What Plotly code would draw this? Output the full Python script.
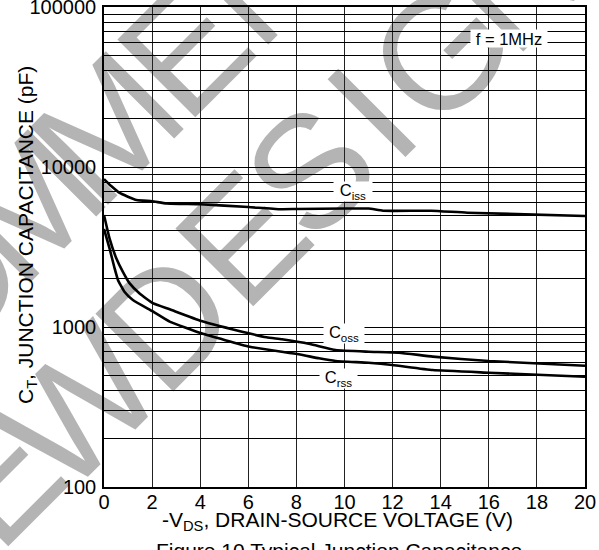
import plotly.graph_objects as go

# ---------------- data ----------------
v_iss = [0, 0.3, 0.65, 1.35, 2.0, 2.6, 4.0, 6.0, 7.3, 8.0, 10.0, 11.0, 11.6, 13.6, 15.1, 20.0]
c_iss = [8400, 7600, 6880, 6220, 6110, 5920, 5845, 5620, 5450, 5465, 5500, 5500, 5330, 5330, 5180, 4940]

v_oss = [0, 0.23, 0.51, 0.78, 1.06, 1.48, 2.03, 2.73, 4.05, 6.06, 6.76, 7.4, 8.56, 9.63, 11.0, 12.27, 13.67, 16.0, 20.0]
c_oss = [5010, 3580, 2690, 2220, 1880, 1620, 1410, 1290, 1090, 910, 862, 838, 783, 718, 701, 691, 653, 613, 573]

v_rss = [0, 0.23, 0.44, 0.58, 0.85, 1.2, 2.03, 2.73, 4.05, 6.06, 8.1, 8.94, 9.63, 11.0, 11.99, 13.67, 16.0, 20.0]
c_rss = [4100, 3100, 2330, 1970, 1660, 1475, 1250, 1080, 913, 753, 675, 637, 613, 598, 579, 538, 518, 489]

x_ticks = [0, 2, 4, 6, 8, 10, 12, 14, 16, 18, 20]
y_grid = [m * 10 ** e for e in (2, 3, 4) for m in range(1, 10)] + [100000]
y_labels = {100: "100", 1000: "1000", 10000: "10000", 100000: "100000"}

# watermark letters (reference pixel centres)
wm_letters = ["O", "M", "M", "E", "N", "N", "E", "W", "D", "E", "S", "I", "G", "N"]
wm_px = [(-60, 273), (18, 195), (96, 117), (174, 39), (250, -37),
         (-95, 540), (-13, 468), (68, 397), (155, 310), (232, 228), (300, 160), (361, 102), (430, 42), (505, -30)]

FONT = "Liberation Sans, Arial, sans-serif"

fig = go.Figure()
for xs, ys, name in [(v_iss, c_iss, "Ciss"), (v_oss, c_oss, "Coss"), (v_rss, c_rss, "Crss")]:
    fig.add_trace(go.Scatter(x=xs, y=ys, mode="lines", name=name,
                             line=dict(color="black", width=2.6, shape="spline", smoothing=0.4),
                             showlegend=False, hoverinfo="skip"))

# watermark (below grid)
for ch, (cx, cy) in zip(wm_letters, wm_px):
    xp = (cx - 104) / 481
    yp = (487 - cy) / 480
    fig.add_shape(type="line", xref="paper", yref="paper",
                  x0=xp - 0.02, x1=xp + 0.02, y0=yp, y1=yp,
                  line=dict(width=0, color="rgba(0,0,0,0)"), layer="below",
                  label=dict(text=ch, textposition="middle", textangle=-45,
                             xanchor="center", yanchor="middle", padding=0,
                             font=dict(family=FONT, size=160, color="#b4b4b4")))

def lab(text, x, ly, w, h, size=16.5):
    fig.add_annotation(x=x, y=ly, xref="x", yref="y", text=text, showarrow=False,
                       bgcolor="white", width=w, height=h, borderpad=1,
                       font=dict(family=FONT, size=size, color="black"))

lab("C<sub>iss</sub>", 10.35, 3.844, 36, 17)
lab("C<sub>oss</sub>", 9.98, 2.9625, 38, 17)
lab("C<sub>rss</sub>", 9.73, 2.681, 35, 17)
lab("f = 1MHz", 16.85, 4.803, 74, 15)

fig.add_annotation(x=0.4854, y=-0.07, xref="paper", yref="paper", showarrow=False,
                   text="-V<sub>DS</sub>, DRAIN-SOURCE VOLTAGE (V)",
                   xanchor="center", yanchor="middle",
                   font=dict(family=FONT, size=21, color="black"))
fig.add_annotation(x=0.4886, y=-0.133, xref="paper", yref="paper", showarrow=False,
                   text="Figure 10 Typical Junction Capacitance",
                   xanchor="center", yanchor="middle",
                   font=dict(family=FONT, size=21, color="black"))
fig.add_annotation(x=-0.160, y=0.525, xref="paper", yref="paper", showarrow=False,
                   text="C<sub>T</sub>, JUNCTION CAPACITANCE (pF)", textangle=-90,
                   xanchor="center", yanchor="middle",
                   font=dict(family=FONT, size=21, color="black"))

fig.update_xaxes(range=[0, 20], tickvals=x_ticks, ticktext=[str(t) for t in x_ticks],
                 showgrid=True, gridcolor="#222", gridwidth=1, zeroline=False,
                 showline=True, mirror=True, linecolor="black", linewidth=1.5,
                 ticks="", automargin=False, ticklabeloverflow="allow", ticklabelstandoff=-4,
                 tickfont=dict(family=FONT, size=20, color="black"))
fig.update_yaxes(type="log", range=[2, 5], tickvals=y_grid,
                 ticktext=[y_labels.get(v, "") for v in y_grid],
                 showgrid=True, gridcolor="black", gridwidth=1, zeroline=False,
                 showline=True, mirror=True, linecolor="black", linewidth=1.5,
                 ticks="", ticklabelstandoff=2, automargin=False, ticklabeloverflow="allow",
                 tickfont=dict(family=FONT, size=20, color="black"))

fig.update_layout(width=599, height=550, margin=dict(l=104, r=14, t=7, b=63, autoexpand=False),
                  plot_bgcolor="white", paper_bgcolor="white", showlegend=False,
                  font=dict(family=FONT))

fig.write_html("out.html", config={"displayModeBar": False},
               post_script="document.body.style.margin='0px';document.body.style.overflow='hidden';")
